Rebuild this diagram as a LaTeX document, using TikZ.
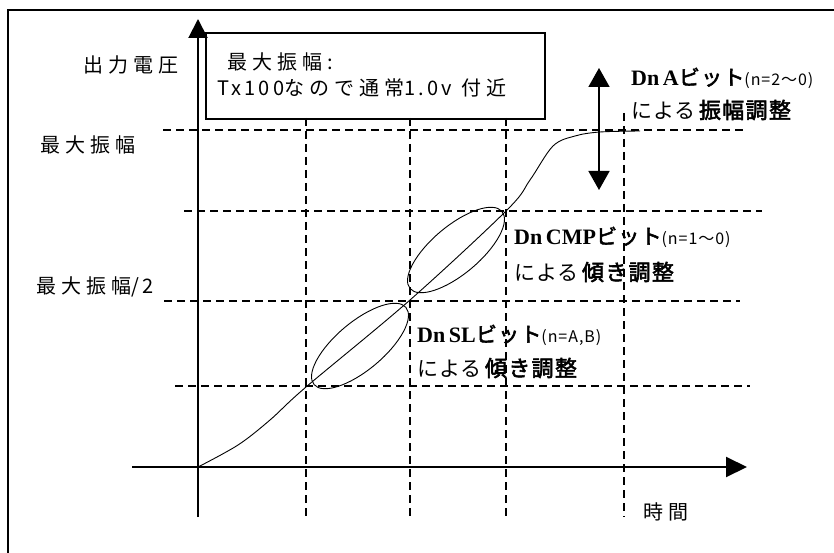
\documentclass[tikz,border=0pt]{standalone}
\usepackage{fontspec}
\usetikzlibrary{arrows.meta,shapes.geometric}
\newfontfamily\jp[LetterSpace=25]{Noto Sans CJK JP}
\newfontfamily\jpl[LetterSpace=16]{Noto Sans CJK JP}
\newfontfamily\jpr[LetterSpace=5]{Noto Sans CJK JP}
\newfontfamily\jpb[LetterSpace=6,FakeBold=2.5]{Noto Sans CJK JP}
\newfontfamily\jps[LetterSpace=6]{Noto Sans CJK JP}
\newfontfamily\tmb{Liberation Serif}
\begin{document}
\begin{tikzpicture}[x=1pt,y=-1pt,
  frame/.style={line width=2pt},
  axis/.style={line width=2pt},
  gridline/.style={line width=1.2pt, dash pattern=on 8pt off 5pt},
  curve/.style={line width=0.9pt},
  lens/.style={draw, ellipse, line width=0.9pt, minimum width=120pt, minimum height=48pt, inner sep=0pt, rotate=40},
  lbl/.style={inner sep=0pt, anchor=west},
  big/.style={font=\fontsize{20}{22}\jp},
  boxtxt/.style={font=\fontsize{20}{22}\jp},
]
\useasboundingbox (0,0) rectangle (834,553);
\fill[white] (0,0) rectangle (834,553);
% outer frame (partially visible)
\draw[frame] (8,553) -- (8,10) -- (834,10);

% grid coordinates
\coordinate (h1a) at (163,130); \coordinate (h1b) at (745,130);
\coordinate (h2a) at (184,211); \coordinate (h2b) at (762,211);
\coordinate (h3a) at (164,301); \coordinate (h3b) at (740,301);
\coordinate (h4a) at (175,386); \coordinate (h4b) at (750,386);
\coordinate (v1a) at (306,118); \coordinate (v1b) at (306,517);
\coordinate (v2a) at (410,118); \coordinate (v2b) at (410,517);
\coordinate (v3a) at (506,118); \coordinate (v3b) at (506,517);
\coordinate (v4a) at (624,113); \coordinate (v4b) at (624,517);
\draw[gridline] (h1a) -- (h1b);
\draw[gridline] (h2a) -- (h2b);
\draw[gridline] (h3a) -- (h3b);
\draw[gridline] (h4a) -- (h4b);
\draw[gridline] (v1a) -- (v1b);
\draw[gridline] (v2a) -- (v2b);
\draw[gridline] (v3a) -- (v3b);
\draw[gridline] (v4a) -- (v4b);

% axes
\coordinate (yb) at (198,517); \coordinate (yt) at (198,19);
\coordinate (xl) at (132,467); \coordinate (xr) at (747,467);
\draw[axis, -{Triangle[length=19pt,width=19pt]}] (yb) -- (yt);
\draw[axis, -{Triangle[length=21pt,width=20pt]}] (xl) -- (xr);

% box
\node[draw, line width=1.6pt, minimum width=339pt, minimum height=86pt, anchor=north west, inner sep=0pt] (box) at (205,32) {};
\node[lbl, boxtxt] (bt1) at (227,62) {最大振幅:};
\node[lbl, boxtxt] (bt2) at (217,88) {{\jpl Tx100}なので通常{\jpl 1.0v} 付近};

% axis labels
\node[lbl, big] (ylab) at (83,65) {出力電圧};
\node[lbl, big] (ymax) at (40,145) {最大振幅};
\node[lbl, big] (yhalf) at (36,287) {最大振幅{\jpl /2}};
\node[lbl, big] (xlab) at (643,512) {時間};

% curve
\draw[curve] plot[smooth, tension=0.55] coordinates {(198,467) (238,445) (270,420) (306,387) (410,300) (507,210) (530,180) (553,146) (575,136) (600,132) (640,131)};

% lenses
\node[lens] (e1) at (360,346) {};
\node[lens] (e2) at (456,250) {};

% double arrow
\coordinate (at) at (599,68); \coordinate (ab) at (599,190);
\draw[line width=1.6pt, {Triangle[length=19pt,width=21pt]}-{Triangle[length=19pt,width=21pt]}] (at) -- (ab);

% bold labels
\node[lbl] (la1) at (631,78) {{\fontsize{22}{24}\tmb\bfseries Dn\,A}{\fontsize{21}{24}\jpb ビット}{\fontsize{16}{18}\jps (n=2〜0)}};
\node[lbl] (la2) at (631,110) {{\fontsize{21}{24}\jpr による} {\fontsize{22}{24}\jpb 振幅調整}};
\node[lbl] (lc1) at (514,237) {{\fontsize{22}{24}\tmb\bfseries Dn\,CMP}{\fontsize{21}{24}\jpb ビット}{\fontsize{16}{18}\jps (n=1〜0)}};
\node[lbl] (lc2) at (514,272) {{\fontsize{21}{24}\jpr による} {\fontsize{22}{24}\jpb 傾き調整}};
\node[lbl] (ls1) at (417,335) {{\fontsize{22}{24}\tmb\bfseries Dn\,SL}{\fontsize{21}{24}\jpb ビット}{\fontsize{16}{18}\jps (n=A,B)}};
\node[lbl] (ls2) at (417,368) {{\fontsize{21}{24}\jpr による} {\fontsize{22}{24}\jpb 傾き調整}};
\end{tikzpicture}
\end{document}
